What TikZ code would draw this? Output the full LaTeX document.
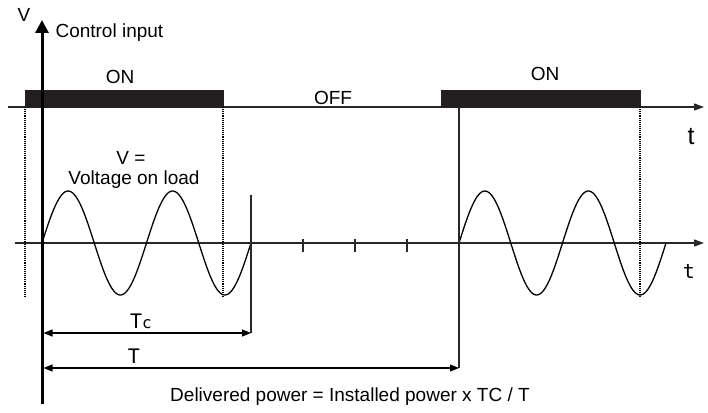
\documentclass[tikz,border=0pt]{standalone}
\usepackage{fontspec}
\setmainfont{Liberation Sans}
\newfontfamily\thinfont{DejaVu Sans Mono}
\usetikzlibrary{positioning,arrows.meta}
\definecolor{barblack}{RGB}{35,31,32}
\definecolor{linegray}{RGB}{40,40,40}
\tikzset{
  onbar/.style={fill=barblack,draw=barblack,inner sep=0pt,outer sep=0pt,
    minimum height=17pt,anchor=south west},
  axisline/.style={draw=linegray,line width=1.2pt,-{Triangle[length=10pt,width=7pt]}},
  guide/.style={densely dotted,line width=1.1pt,draw=black},
  marker/.style={draw=linegray,line width=1.2pt},
  dimarrow/.style={line width=1.1pt,{Triangle[length=9pt,width=7pt]}-{Triangle[length=9pt,width=7pt]}},
  wave/.style={line width=1.3pt,smooth},
  thinlbl/.style={font=\thinfont\fontsize{20}{23}\selectfont},
}
\begin{document}
\begin{tikzpicture}[x=1pt,y=-1pt,font=\fontsize{19}{22}\selectfont]
  \useasboundingbox (0,0) rectangle (708,412);
  % control input line with the two ON periods
  \coordinate (ctlL) at (8,107);
  \coordinate (ctlR) at (704,107);
  \draw[axisline] (ctlL) -- (ctlR);
  \node[onbar,minimum width=198pt] (on1) at (25,107) {};
  \node[onbar,minimum width=199pt] (on2) at (441,107) {};
  \node (on1lbl) at (120,77) {ON};
  \node (on2lbl) at (545,74) {ON};
  \node (offlbl) at (333,98) {OFF};
  \node[font=\fontsize{25}{28}\selectfont] (tbig) at (691,137) {t};
  % voltage axis
  \coordinate (vL) at (15,243);
  \coordinate (vR) at (704,243);
  \draw[axisline] (vL) -- (vR);
  \foreach \x [count=\i] in {303,355,407} {
    \coordinate (tk\i) at (\x,239);
    \draw[marker] (tk\i) -- ++(0,13);
  }
  \node[thinlbl] (tsmall) at (689,271) {t};
  % dotted guides from the ON bars
  \coordinate (g1) at (25,298);
  \coordinate (g2) at (223,298);
  \coordinate (g3) at (640,298);
  \draw[guide] (on1.south west) -- (g1);
  \draw[guide] (on1.south east) -- (g2);
  \draw[guide] (on2.south east) -- (g3);
  % load voltage
  \draw[wave] plot[domain=42:251,samples=120] (\x,{243-52*sin((\x-42)/104.5*360)});
  \draw[wave] plot[domain=459:666,samples=120] (\x,{243-52*sin((\x-459)/103.5*360)});
  \node (vlbl) at (131,158) {V =};
  \node (vload) at (134,180) {Voltage on load};
  % periods
  \coordinate (tcTop) at (251,195);
  \coordinate (tcL) at (43.5,333);
  \coordinate (tcR) at (251,333);
  \coordinate (tTop) at (459,107);
  \coordinate (tL) at (43.5,368);
  \coordinate (tR) at (459,368);
  \draw[marker] (tcTop) -- (tcR);
  \draw[marker] (tTop) -- (tR);
  \draw[dimarrow] (tcL) -- (tcR);
  \draw[dimarrow] (tL) -- (tR);
  \node[thinlbl] (tclbl) at (141,321) {T{\fontsize{16}{18}\selectfont c}};
  \node[thinlbl] (tlbl) at (134,356) {T};
  % main axis
  \coordinate (vbot) at (42,404);
  \coordinate (vtop) at (42,20);
  \draw[line width=3pt,-{Triangle[length=13pt,width=13pt]}] (vbot) -- (vtop);
  \node (vax) at (24,15) {V};
  \node[anchor=west] (ctl) at (52,33) {Control input};
  \node (power) at (350,397) {Delivered power = Installed power x TC / T};
\end{tikzpicture}
\end{document}
